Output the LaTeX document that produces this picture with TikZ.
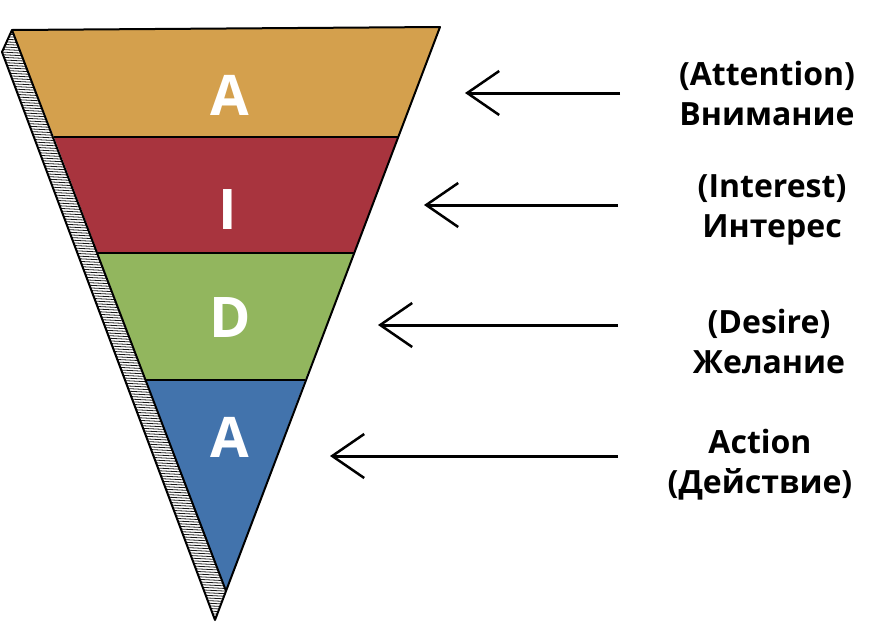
\documentclass[tikz,border=0pt]{standalone}
\usepackage{fontspec}
\setmainfont{Open Sans}
\usetikzlibrary{arrows.meta}
\definecolor{attcol}{HTML}{D4A04D}
\definecolor{intcol}{HTML}{A8343E}
\definecolor{descol}{HTML}{92B65E}
\definecolor{actcol}{HTML}{4273AC}
\tikzset{
    letter/.style={text=white, font=\fontsize{56}{56}\selectfont\bfseries},
    caption/.style={align=center, font=\fontsize{32}{40}\selectfont\bfseries},
    pointer/.style={line width=3pt, -{Straight Barb[length=32pt,width=44pt,line width=2.5pt]}}
}
\begin{document}
\begin{tikzpicture}[x=1pt,y=-1pt]
        \useasboundingbox (0,0) rectangle (890,635);
        % the hatched side of the funnel
        \begin{scope}
            \clip (12,30) -- (2,52) -- (215,620) -- (226,591) -- cycle;
            \foreach \y in {0,2.6,...,640}
                \draw[line width=0.8pt, black!90] (0,\y) -- (240,\y+12);
        \end{scope}
        \draw[line width=2pt, line join=round] (12,30) -- (2,52) -- (215,620) -- (226,591);
        % the four bands
        \fill[attcol] (12,30)  -- (440,27)  -- (398,137) -- (54,137)  -- cycle;
        \fill[intcol] (54,137) -- (398,137) -- (354,253) -- (98,253)  -- cycle;
        \fill[descol] (98,253) -- (354,253) -- (305,380) -- (146,380) -- cycle;
        \fill[actcol] (146,380) -- (305,380) -- (226,591) -- cycle;
        \draw[line width=1.2pt] (54,137) -- (398,137);
        \draw[line width=1.2pt] (98,253) -- (354,253);
        \draw[line width=1.2pt] (146,380) -- (305,380);
        \draw[line width=2pt, line join=round] (12,30) -- (440,27) -- (226,591) -- cycle;
        % letters
        \node[letter] (lA) at (230,95)  {A};
        \node[letter] (lI) at (228,210) {I};
        \node[letter] (lD) at (230,318) {D};
        \node[letter] (lAc) at (230,437) {A};
        % captions
        \node[caption] (att) at (767,93)  {(Attention)\\Внимание};
        \node[caption] (int) at (772,210) {(Interest)\\Интерес};
        \node[caption] (des) at (769,341) {(Desire)\\Желание};
        \node[caption] (act) at (760,465) {Action\\(Действие)};
        % arrows
        \coordinate (attS) at (620,93);  \coordinate (attE) at (465,93);
        \coordinate (intS) at (618,205); \coordinate (intE) at (424,205);
        \coordinate (desS) at (618,325); \coordinate (desE) at (378,325);
        \coordinate (actS) at (618,456); \coordinate (actE) at (330,456);
        \draw[pointer] (attS) -- (attE);
        \draw[pointer] (intS) -- (intE);
        \draw[pointer] (desS) -- (desE);
        \draw[pointer] (actS) -- (actE);
    \end{tikzpicture}
\end{document}
